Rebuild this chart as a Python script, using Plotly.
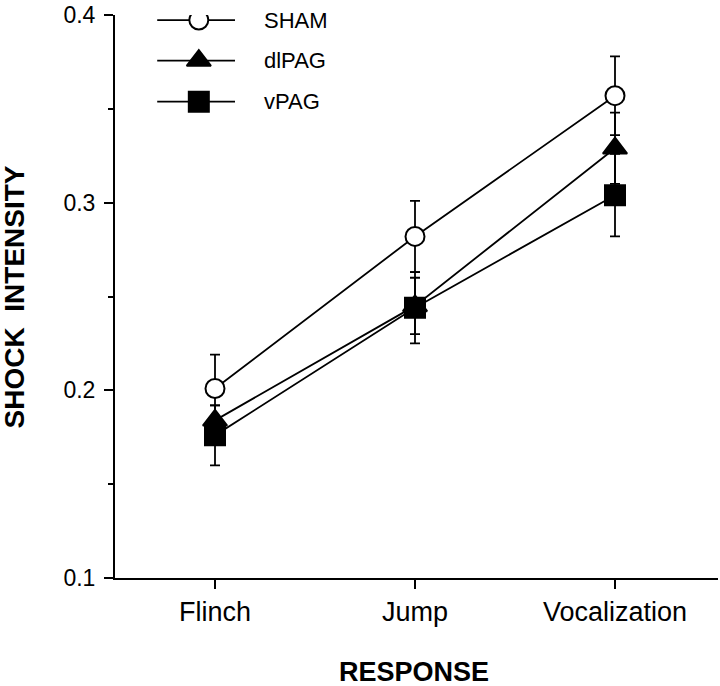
import plotly.graph_objects as go

# ---- data ----
categories = ["Flinch", "Jump", "Vocalization"]
series_names = ["SHAM", "dlPAG", "vPAG"]
sham = [0.201, 0.282, 0.357]
sham_err = [0.018, 0.019, 0.021]
dlpag = [0.184, 0.245, 0.329]
dlpag_err = [0.008, 0.015, 0.019]
vpag = [0.176, 0.244, 0.304]
vpag_err = [0.016, 0.019, 0.022]
y_tickvals = [0.1, 0.2, 0.3, 0.4]
y_ticktext = ["0.1", "0.2", "0.3", "0.4"]

FONT = "Liberation Sans, Arial, Helvetica, sans-serif"

styles = [
    dict(symbol="circle", size=19, color="white"),
    dict(symbol="triangle-up", size=21, color="black"),
    dict(symbol="square", size=20, color="black"),
]
values = [sham, dlpag, vpag]
errors = [sham_err, dlpag_err, vpag_err]

fig = go.Figure()
for name, vals, errs, st in zip(series_names, values, errors, styles):
    fig.add_trace(go.Scatter(
        x=categories, y=vals, name=name, mode="lines+markers",
        line=dict(color="black", width=1.8),
        marker=dict(symbol=st["symbol"], size=st["size"], color=st["color"],
                    line=dict(color="black", width=2)),
        error_y=dict(type="data", array=errs, visible=True, color="black",
                     thickness=1.8, width=5),
        showlegend=False,
    ))

# ---- hand-drawn legend on an overlay axis (0..1 across the plot area) ----
leg_y = [0.991, 0.919, 0.846]
leg_line_x = [0.07, 0.199]
leg_mark_x = 0.139
leg_text_x = 0.244
for name, ly, st in zip(series_names, leg_y, styles):
    fig.add_trace(go.Scatter(
        x=leg_line_x, y=[ly, ly], xaxis="x2", yaxis="y2", mode="lines",
        line=dict(color="black", width=1.8), showlegend=False, hoverinfo="skip"))
    fig.add_trace(go.Scatter(
        x=[leg_mark_x], y=[ly], xaxis="x2", yaxis="y2", mode="markers",
        marker=dict(symbol=st["symbol"], size=st["size"], color=st["color"],
                    line=dict(color="black", width=2)),
        showlegend=False, hoverinfo="skip"))
    fig.add_annotation(x=leg_text_x, y=ly, xref="x2", yref="y2", text=name,
                       showarrow=False, xanchor="left", yanchor="middle",
                       font=dict(family=FONT, size=22, color="black"))

fig.add_annotation(x=-0.166, y=0.5, xref="paper", yref="paper",
                   text="SHOCK  INTENSITY", textangle=-90, showarrow=False,
                   xanchor="center", yanchor="middle",
                   font=dict(family=FONT, size=28, color="black", weight="bold"))
fig.add_annotation(x=0.496, y=-0.167, xref="paper", yref="paper",
                   text="RESPONSE", showarrow=False,
                   xanchor="center", yanchor="middle",
                   font=dict(family=FONT, size=27, color="black", weight="bold"))

fig.update_layout(
    width=720, height=686,
    margin=dict(l=115, r=2, t=13, b=108),
    paper_bgcolor="white", plot_bgcolor="white",
    font=dict(family=FONT, color="black"),
    xaxis=dict(type="category", range=[-0.5, 2.515], showgrid=False,
               showline=True, linecolor="black", linewidth=2,
               ticks="outside", ticklen=9, tickwidth=2, tickcolor="black",
               tickfont=dict(family=FONT, size=27, color="black"),
               zeroline=False),
    yaxis=dict(range=[0.1, 0.4], showgrid=False, showline=True,
               linecolor="black", linewidth=2,
               tickvals=y_tickvals, ticktext=y_ticktext,
               ticks="outside", ticklen=9, tickwidth=2, tickcolor="black",
               tickfont=dict(family=FONT, size=23, color="black"),
               ticklabelstandoff=4,
               minor=dict(dtick=0.05, ticks="outside", ticklen=5,
                          tickwidth=2, tickcolor="black"),
               zeroline=False),
    xaxis2=dict(range=[0, 1], overlaying="x", visible=False, fixedrange=True),
    yaxis2=dict(range=[0, 1], overlaying="y", visible=False, fixedrange=True),
)

# remove the browser's default 8px body margin so the figure sits at (0, 0)
fig.write_html(
    "out.html",
    config={"displayModeBar": False},
    post_script="document.body.style.margin='0';"
                "document.body.style.overflow='hidden';",
)
